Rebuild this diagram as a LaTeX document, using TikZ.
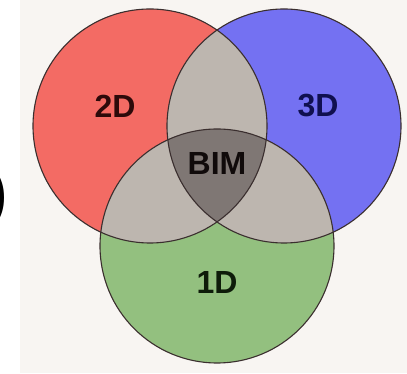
\documentclass[tikz,border=0pt]{standalone}
\usepackage{fontspec}
\setmainfont{Liberation Sans}
\definecolor{panel}{HTML}{F8F5F2}
\definecolor{cred}{HTML}{F36B64}
\definecolor{cblue}{HTML}{7471F2}
\definecolor{cgreen}{HTML}{93C07F}
\definecolor{cgray}{HTML}{BDB6AF}
\definecolor{cdark}{HTML}{7F7774}
\definecolor{outl}{HTML}{3A2E2E}
\begin{document}
\begin{tikzpicture}[x=1pt,y=1pt,
  lbl/.style={font=\bfseries\fontsize{32}{32}\selectfont, inner sep=0pt},
  ring/.style={draw=outl, line width=1.1pt}]
\useasboundingbox (0,0) rectangle (407,374);
\clip (0,0) rectangle (407,374);
\fill[white] (0,0) rectangle (407,374);
\fill[panel] (20,1) rectangle (407,374);
\coordinate (R) at (150,248);
\coordinate (B) at (284,248);
\coordinate (G) at (217,128);
\def\rr{117}
\fill[cred] (R) circle (\rr);
\fill[cblue] (B) circle (\rr);
\fill[cgreen] (G) circle (\rr);
\begin{scope}
  \clip (R) circle (\rr);
  \fill[cgray] (B) circle (\rr);
  \fill[cgray] (G) circle (\rr);
\end{scope}
\begin{scope}
  \clip (B) circle (\rr);
  \fill[cgray] (G) circle (\rr);
\end{scope}
\begin{scope}
  \clip (R) circle (\rr);
  \clip (B) circle (\rr);
  \fill[cdark] (G) circle (\rr);
\end{scope}
\draw[ring] (R) circle (\rr);
\draw[ring] (B) circle (\rr);
\draw[ring] (G) circle (\rr);
\node[lbl, text={rgb,255:red,45;green,10;blue,10}] (l2d) at (115,268) {2D};
\node[lbl, text={rgb,255:red,16;green,16;blue,80}] (l3d) at (318,268) {3D};
\node[lbl, text={rgb,255:red,14;green,28;blue,10}] (l1d) at (217,92) {1D};
\node[lbl, text={rgb,255:red,16;green,10;blue,10}] (bim) at (217,211) {BIM};
\node[font=\bfseries\fontsize{60}{60}\selectfont, inner sep=0pt, anchor=east] (par) at (8,176) {)};
\end{tikzpicture}
\end{document}
